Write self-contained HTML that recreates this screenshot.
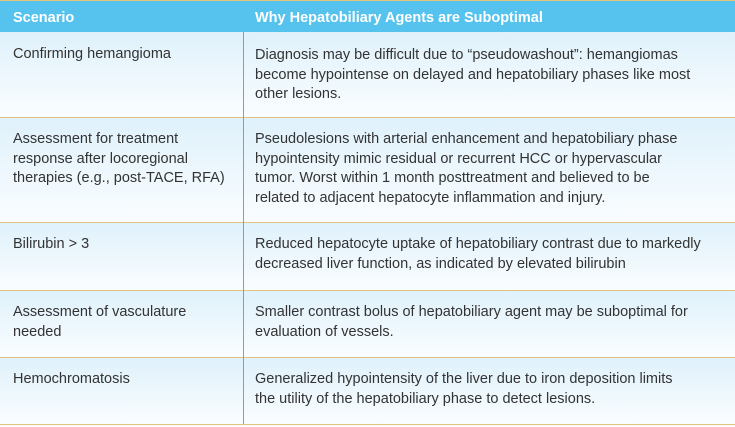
<!DOCTYPE html>
<html><head><meta charset="utf-8"><style>
body{margin:0;width:735px;height:427px;background:#fff;position:relative;overflow:hidden;font-family:"Liberation Sans",sans-serif;color:#333;}
.hdr{position:absolute;left:0;top:0;width:735px;height:32px;background:#56c3ee;border-top:1px solid #e6c478;box-sizing:border-box;}
.h{position:absolute;top:9px;color:#fff;font-weight:bold;font-size:14.5px;}
.row{position:absolute;left:0;width:735px;background:linear-gradient(#dff1fb,#fafdff);border-bottom:1.5px solid #e3c27a;box-sizing:border-box;}
.t{position:absolute;font-size:14.5px;line-height:19.5px;white-space:nowrap;}
.vl{position:absolute;left:243px;top:32px;width:1px;height:392px;background:#4bb8c8;}
</style></head><body>
<div class="hdr"><div class="h" style="left:13px">Scenario</div><div class="h" style="left:255px">Why Hepatobiliary Agents are Suboptimal</div></div>
<div class="row" style="top:32px;height:86px"></div>
<div class="row" style="top:118px;height:105px"></div>
<div class="row" style="top:223px;height:68px"></div>
<div class="row" style="top:291px;height:67px"></div>
<div class="row" style="top:358px;height:67px"></div>
<div class="vl"></div>
<div class="t" style="left:13px;top:45px">Confirming hemangioma</div>
<div class="t" style="left:255px;top:46px">Diagnosis may be difficult due to “pseudowashout”: hemangiomas<br>become hypointense on delayed and hepatobiliary phases like most<br>other lesions.</div>
<div class="t" style="left:13px;top:130px">Assessment for treatment<br>response after locoregional<br>therapies (e.g., post-TACE, RFA)</div>
<div class="t" style="left:255px;top:130px">Pseudolesions with arterial enhancement and hepatobiliary phase<br>hypointensity mimic residual or recurrent HCC or hypervascular<br>tumor. Worst within 1 month posttreatment and believed to be<br>related to adjacent hepatocyte inflammation and injury.</div>
<div class="t" style="left:13px;top:235px">Bilirubin &gt; 3</div>
<div class="t" style="left:255px;top:235px">Reduced hepatocyte uptake of hepatobiliary contrast due to markedly<br>decreased liver function, as indicated by elevated bilirubin</div>
<div class="t" style="left:13px;top:303px">Assessment of vasculature<br>needed</div>
<div class="t" style="left:255px;top:303px">Smaller contrast bolus of hepatobiliary agent may be suboptimal for<br>evaluation of vessels.</div>
<div class="t" style="left:13px;top:370px">Hemochromatosis</div>
<div class="t" style="left:255px;top:370px">Generalized hypointensity of the liver due to iron deposition limits<br>the utility of the hepatobiliary phase to detect lesions.</div>
</body></html>
